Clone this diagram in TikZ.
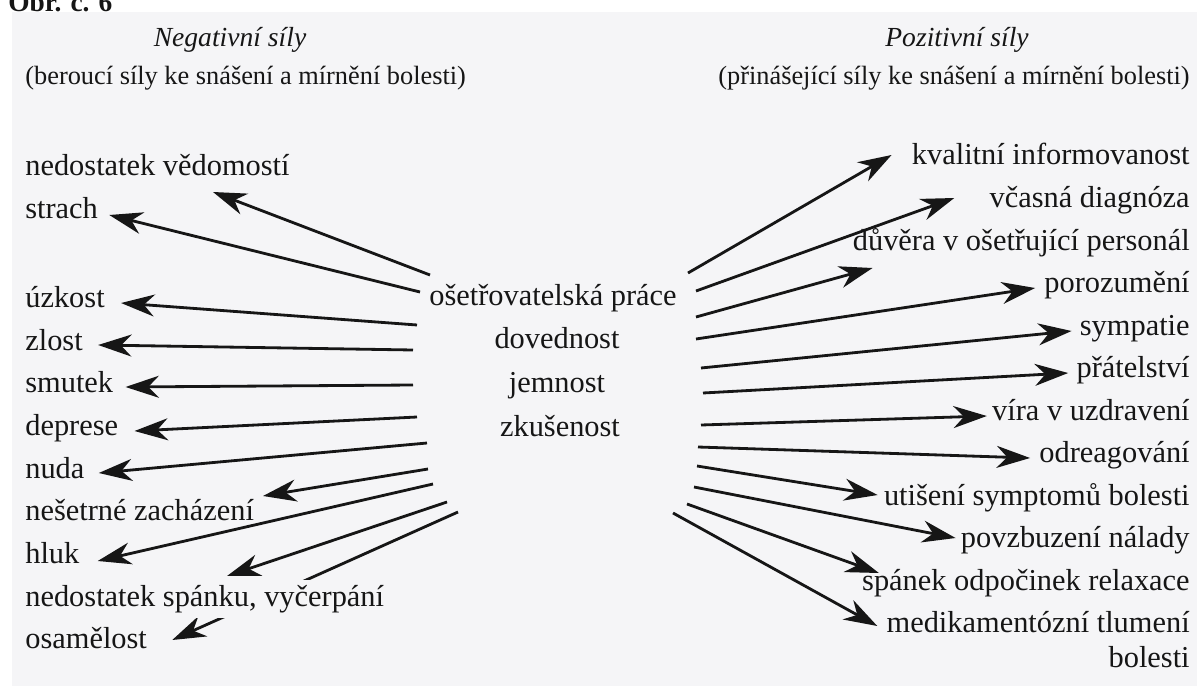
\documentclass[tikz,border=0pt]{standalone}
\usepackage{fontspec}
\setmainfont{Liberation Serif}
\usetikzlibrary{arrows.meta,calc}

\definecolor{scan}{RGB}{245,245,247}
\definecolor{ink}{RGB}{22,22,22}

\pgfdeclarelayer{scan}
\pgfdeclarelayer{lines}
\pgfsetlayers{scan,lines,main}

\begin{document}
\begin{tikzpicture}[x=0.02cm, y=-0.02cm,
	lab/.style = {inner sep=0pt, text=ink, font=\fontsize{17.3}{20}\selectfont},
	negl/.style = {lab, anchor=base west},
	posl/.style = {lab, anchor=base east},
	midl/.style = {lab, anchor=base},
	headl/.style = {inner sep=0pt, text=ink, anchor=base, font=\fontsize{15.7}{18}\selectfont\itshape},
	subl/.style = {inner sep=0pt, text=ink, font=\fontsize{15}{18}\selectfont},
	arr/.style = {draw=ink, line width=1.6pt, -{Stealth[length=19pt,width=12.5pt,inset=6pt]}}]
	
	\useasboundingbox (0,0) rectangle (1197,686);
	\begin{pgfonlayer}{scan}
		\fill[white] (0,0) rectangle (1197,686);
		\fill[scan] (12,12) rectangle (1197,686);
	\end{pgfonlayer}
	
	\node[inner sep=0pt, anchor=base west, text=ink, font=\fontsize{15.6}{18}\selectfont\bfseries] (obr) at (8,12) {Obr. č. 6};
	
	% headings
	\node[headl] (neg) at (230,47) {Negativní síly};
	\node[subl, anchor=base west] (negsub) at (25,85) {(beroucí síly ke snášení a mírnění bolesti)};
	\node[headl] (poz) at (957,47) {Pozitivní síly};
	\node[subl, anchor=base east] (pozsub) at (1190,85) {(přinášející síly ke snášení a mírnění bolesti)};
	
	% centre
	\node[midl] (prace) at (553,305) {ošetřovatelská práce};
	\node[midl] (doved) at (557,348) {dovednost};
	\node[midl] (jemnost) at (557,392) {jemnost};
	\node[midl] (zkusen) at (560,436) {zkušenost};
	
	% negative forces
	\node[negl] (vedom) at (25,175) {nedostatek vědomostí};
	\node[negl] (strach) at (25,218) {strach};
	\node[negl] (uzkost) at (25,307) {úzkost};
	\node[negl] (zlost) at (25,350) {zlost};
	\node[negl] (smutek) at (25,392) {smutek};
	\node[negl] (deprese) at (25,435) {deprese};
	\node[negl] (nuda) at (25,478) {nuda};
	\node[negl] (nesetrne) at (25,520) {nešetrné zacházení};
	\node[negl] (hluk) at (25,563) {hluk};
	\node[negl, fill=scan, inner ysep=3pt] (spanek) at (25,606) {nedostatek spánku, vyčerpání};
	\node[negl] (osamel) at (25,648) {osamělost};
	
	% positive forces
	\node[posl] (kvalit) at (1190,165) {kvalitní informovanost};
	\node[posl] (vcasna) at (1190,207) {včasná diagnóza};
	\node[posl] (duvera) at (1190,250) {důvěra v ošetřující personál};
	\node[posl] (porozum) at (1190,292) {porozumění};
	\node[posl] (sympat) at (1190,335) {sympatie};
	\node[posl] (pratel) at (1190,377) {přátelství};
	\node[posl] (vira) at (1190,420) {víra v uzdravení};
	\node[posl] (odreag) at (1190,462) {odreagování};
	\node[posl] (utiseni) at (1190,505) {utišení symptomů bolesti};
	\node[posl] (povzbuz) at (1190,547) {povzbuzení nálady};
	\node[posl] (relax) at (1190,590) {spánek odpočinek relaxace};
	\node[posl] (medik) at (1190,632) {medikamentózní tlumení};
	\node[posl] (medikb) at (1190,667) {bolesti};
	
	% arrow tails
	\coordinate (n1) at (430,275);
	\coordinate (n2) at (420,292);
	\coordinate (n3) at (417,325);
	\coordinate (n4) at (413,350);
	\coordinate (n5) at (413,385);
	\coordinate (n6) at (417,417);
	\coordinate (n7) at (427,443);
	\coordinate (n8) at (428,469);
	\coordinate (n9) at (433,484);
	\coordinate (n10) at (447,502);
	\coordinate (n11) at (458,512);
	
	\coordinate (p1) at (688,273);
	\coordinate (p2) at (696,291);
	\coordinate (p3) at (696,317);
	\coordinate (p4) at (696,339);
	\coordinate (p5) at (701,368);
	\coordinate (p6) at (703,393);
	\coordinate (p7) at (701,425);
	\coordinate (p8) at (698,447);
	\coordinate (p9) at (697,466);
	\coordinate (p10) at (694,487);
	\coordinate (p11) at (687,504);
	\coordinate (p12) at (673,513);
	
	\begin{pgfonlayer}{lines}
		\draw[arr] (n1) -- ($(vedom.base west)+(188,17)$);
		\draw[arr] (n2) -- ($(strach.base east)+(11,-3)$);
		\draw[arr] (n3) -- ($(uzkost.base east)+(16,-4)$);
		\draw[arr] (n4) -- ($(zlost.base east)+(15,-5)$);
		\draw[arr] (n5) -- ($(smutek.base east)+(12,-5)$);
		\draw[arr] (n6) -- ($(deprese.base east)+(16,-4)$);
		\draw[arr] (n7) -- ($(nuda.base east)+(14,-5)$);
		\draw[arr] (n8) -- ($(nesetrne.base west)+(238,-24)$);
		\draw[arr] (n9) -- ($(hluk.base east)+(18,-2)$);
		\draw[arr] (n10) -- ($(spanek.base west)+(202,-30)$);
		\draw[arr] (n11) -- ($(osamel.base east)+(25,-8)$);
		
		\draw[arr] (p1) -- ($(kvalit.base west)+(-20,-10)$);
		\draw[arr] (p2) -- ($(vcasna.base west)+(-35,-9)$);
		\draw[arr] (p3) -- ($(duvera.base west)+(20,18)$);
		\draw[arr] (p4) -- ($(porozum.base west)+(-9,-4)$);
		\draw[arr] (p5) -- ($(sympat.base west)+(-8,-4)$);
		\draw[arr] (p6) -- ($(pratel.base west)+(-8,-4)$);
		\draw[arr] (p7) -- ($(vira.base west)+(-5,-4)$);
		\draw[arr] (p8) -- ($(odreag.base west)+(-9,-4)$);
		\draw[arr] (p9) -- ($(utiseni.base west)+(-6,-10)$);
		\draw[arr] (p10) -- ($(povzbuz.base west)+(-5,-9)$);
		\draw[arr] (p11) -- ($(relax.base west)+(17,-17)$);
		\draw[arr] (p12) -- ($(medik.base west)+(-9,-6)$);
	\end{pgfonlayer}
\end{tikzpicture}
\end{document}
